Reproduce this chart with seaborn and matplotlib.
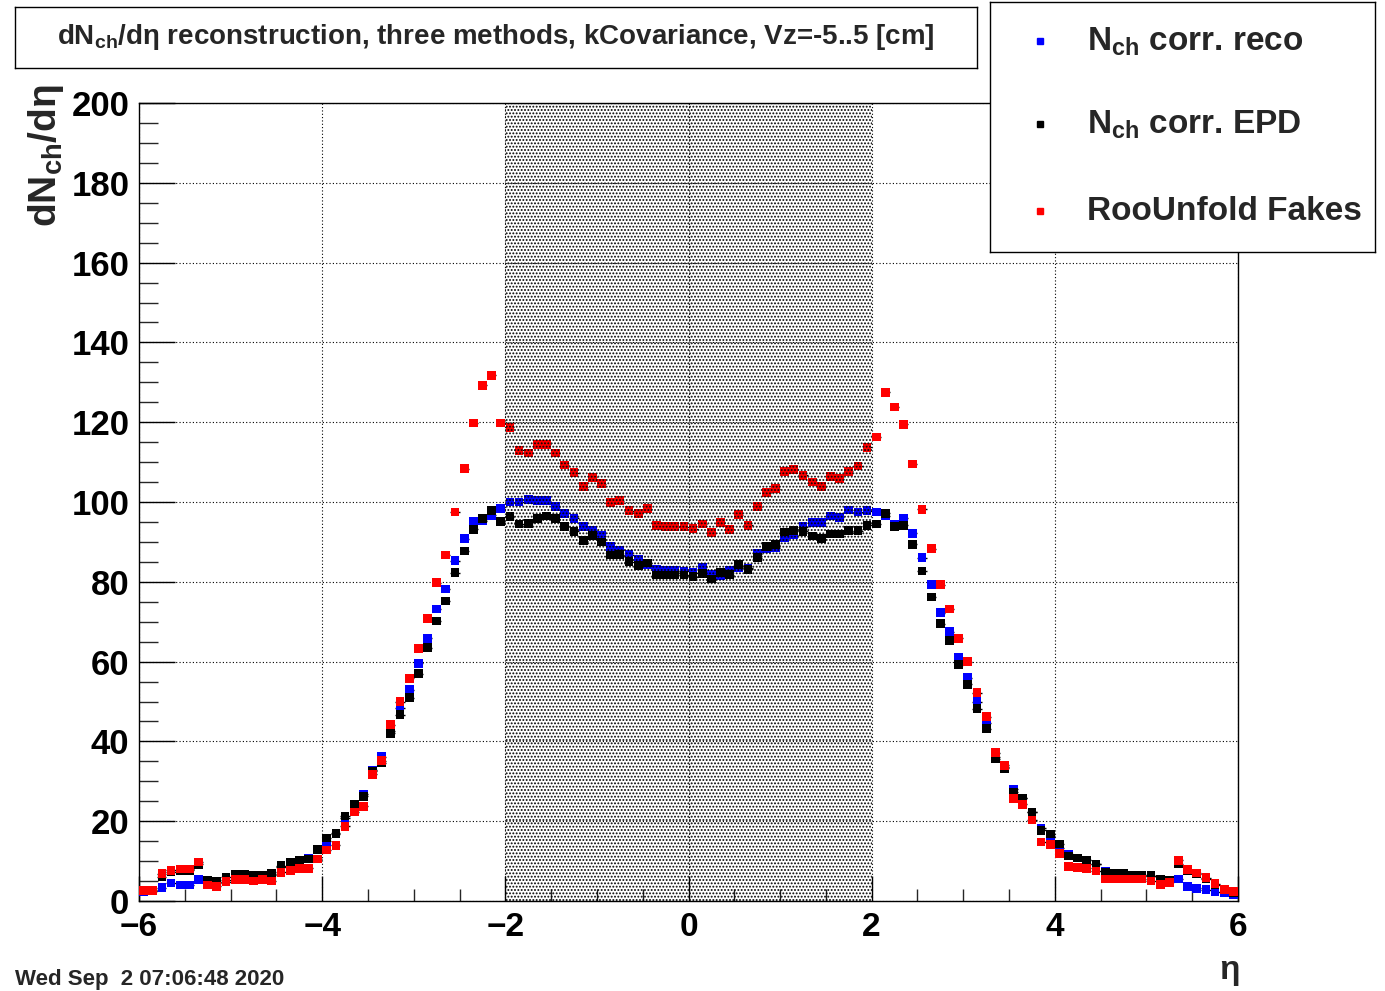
import numpy as np
import pandas as pd
import matplotlib
matplotlib.use("Agg")
import matplotlib.pyplot as plt
import seaborn as sns

# pseudorapidity bins: 120 bins of width 0.1 between -6 and 6
eta_lo, eta_hi, n_bins = -6.0, 6.0, 120
eta = np.linspace(eta_lo, eta_hi, n_bins + 1)[:-1] + 0.05

nch_reco = [
    2.3, 2.5, 3.3, 4.5, 4.0, 4.0, 5.3, 4.8, 4.5, 5.3,
    6.2, 6.2, 6.2, 6.3, 6.5, 8.5, 9.5, 10.0, 10.8, 12.8,
    15.0, 16.8, 20.8, 24.0, 26.7, 32.8, 36.2, 42.5, 48.3, 53.0,
    59.6, 65.8, 73.2, 78.2, 85.3, 90.8, 95.2, 95.3, 96.7, 98.3,
    100.0, 100.0, 100.7, 100.3, 100.3, 98.8, 97.2, 95.9, 93.8, 93.0,
    91.6, 88.8, 87.9, 86.8, 85.5, 84.3, 83.2, 82.8, 82.8, 82.7,
    82.3, 83.6, 81.8, 81.5, 82.8, 83.5, 83.4, 87.0, 88.3, 88.5,
    91.2, 91.8, 93.8, 94.8, 94.8, 96.5, 96.2, 98.0, 97.5, 97.8,
    97.5, 96.5, 94.5, 96.0, 92.2, 86.0, 79.3, 72.3, 67.5, 61.0,
    56.0, 50.0, 44.7, 36.0, 33.6, 28.0, 25.8, 22.3, 18.3, 16.3,
    13.3, 11.7, 10.8, 10.2, 9.2, 7.5, 7.0, 6.8, 6.5, 6.5,
    6.3, 5.3, 5.2, 5.5, 3.7, 3.2, 2.8, 2.3, 2.0, 1.7,
]

nch_epd = [
    2.5, 2.6, 6.0, 7.3, 7.5, 7.7, 9.2, 5.2, 4.8, 6.0,
    6.7, 6.7, 6.5, 6.5, 6.8, 8.8, 9.7, 10.3, 10.5, 13.0,
    15.8, 17.0, 21.3, 24.2, 26.2, 32.5, 34.7, 42.0, 46.7, 51.0,
    57.0, 63.5, 70.2, 75.2, 82.3, 87.7, 93.2, 95.8, 97.8, 95.2,
    96.3, 94.5, 94.7, 95.8, 96.5, 95.8, 93.8, 92.7, 90.3, 91.6,
    90.0, 86.7, 86.8, 85.0, 84.1, 84.7, 81.7, 81.7, 81.7, 81.7,
    81.3, 82.1, 80.7, 82.4, 81.8, 84.3, 83.1, 86.0, 88.8, 89.3,
    92.5, 92.8, 92.7, 91.5, 90.8, 92.0, 92.0, 92.8, 92.8, 94.2,
    94.5, 97.2, 93.8, 94.2, 89.4, 82.7, 76.2, 69.5, 65.2, 59.2,
    54.3, 48.2, 43.2, 35.7, 33.3, 27.3, 25.8, 22.3, 17.7, 16.8,
    14.3, 11.3, 10.8, 10.2, 9.2, 7.2, 7.0, 6.8, 6.5, 6.5,
    6.3, 5.3, 5.2, 9.3, 7.6, 6.8, 5.6, 4.1, 2.8, 2.2,
]

roounfold_fakes = [
    2.7, 2.7, 6.8, 7.7, 8.0, 8.0, 9.8, 4.0, 3.7, 4.8,
    5.3, 5.3, 5.0, 5.4, 5.0, 7.2, 7.7, 8.2, 8.2, 10.5,
    12.8, 14.0, 18.7, 22.3, 23.7, 31.8, 35.2, 44.2, 50.0, 55.8,
    63.2, 70.8, 79.8, 86.7, 97.5, 108.3, 119.8, 129.2, 131.8, 119.8,
    118.7, 113.0, 112.3, 114.5, 114.5, 112.3, 109.3, 107.3, 103.8, 106.2,
    104.6, 99.8, 100.3, 97.8, 97.2, 98.3, 94.1, 93.8, 93.8, 93.8,
    93.3, 94.5, 92.3, 94.9, 93.2, 96.8, 94.2, 98.8, 102.3, 103.3,
    107.7, 108.2, 106.7, 105.0, 103.8, 106.3, 105.8, 107.7, 109.0, 113.7,
    116.3, 127.5, 123.8, 119.5, 109.5, 98.2, 88.3, 79.3, 73.2, 65.8,
    60.0, 52.2, 46.2, 37.2, 34.0, 25.7, 24.2, 20.3, 14.8, 14.2,
    12.0, 8.7, 8.3, 8.2, 7.5, 5.5, 5.5, 5.5, 5.5, 5.5,
    5.0, 4.2, 4.7, 10.2, 7.8, 7.0, 5.8, 4.3, 2.8, 2.3,
]

series_names = ["reco", "EPD", "Fakes"]
series_labels = [r"N$_{ch}$ corr. reco", r"N$_{ch}$ corr. EPD", "RooUnfold Fakes"]
series_colors = ["#0000ff", "#000000", "#ff0000"]
series_values = [nch_reco, nch_epd, roounfold_fakes]

x_ticks = [-6, -4, -2, 0, 2, 4, 6]
y_ticks = [0, 20, 40, 60, 80, 100, 120, 140, 160, 180, 200]
band = (-2.0, 2.0)

df = pd.concat(
    [pd.DataFrame({"eta": eta, "dndeta": v, "method": n})
     for n, v in zip(series_names, series_values)],
    ignore_index=True,
)

sns.set_theme(style="white")
plt.rcParams["font.family"] = ["Liberation Sans", "DejaVu Sans"]
plt.rcParams["font.weight"] = "bold"
plt.rcParams["mathtext.fontset"] = "custom"
plt.rcParams["mathtext.rm"] = "Liberation Sans:bold"
plt.rcParams["mathtext.it"] = "Liberation Sans:bold"
plt.rcParams["mathtext.bf"] = "Liberation Sans:bold"
plt.rcParams["mathtext.default"] = "rm"
plt.rcParams["hatch.linewidth"] = 0.9

W, H = 1385, 991
fig = plt.figure(figsize=(W / 100, H / 100), dpi=100)
fig.patch.set_facecolor("white")

def fx(px):
    return px / W

def fy(py):
    return 1 - py / H

ax = fig.add_axes([fx(139), fy(901), fx(1238) - fx(139), fy(103) - fy(901)])
ax.set_facecolor("white")

# bin-width error bars
for vals in series_values:
    ax.hlines(vals, eta - 0.05, eta + 0.05, colors="black", linewidth=1.0, zorder=2)

sns.scatterplot(
    data=df, x="eta", y="dndeta", hue="method", hue_order=series_names,
    palette=series_colors, marker="s", s=40, linewidth=0, edgecolor="none",
    legend=False, ax=ax, zorder=3,
)

# dotted fill of the central region, drawn over the markers
ax.axvspan(band[0], band[1], facecolor="none", edgecolor="black",
           hatch=".....", linewidth=0, zorder=4)

ax.set_xlim(eta_lo, eta_hi)
ax.set_ylim(0, 200)
ax.set_xticks(x_ticks)
ax.set_yticks(y_ticks)
ax.set_xticks(np.arange(-6, 6.01, 0.5), minor=True)
ax.set_yticks(np.arange(0, 200.01, 5), minor=True)
ax.set_xlabel("")
ax.set_ylabel("")

ax.grid(True, which="major", color="black", linestyle=(0, (1, 2)), linewidth=0.8)
ax.set_axisbelow(True)
for s in ax.spines.values():
    s.set_color("black")
    s.set_linewidth(1.0)

ax.tick_params(axis="x", which="major", direction="in", length=18, width=1,
               bottom=True, top=False, labelsize=24, pad=8, colors="black")
ax.tick_params(axis="x", which="minor", direction="in", length=8.6, width=1,
               bottom=True, top=False)
ax.tick_params(axis="y", which="major", direction="in", length=26, width=1,
               left=True, right=False, labelsize=25, pad=7, colors="black")
ax.tick_params(axis="y", which="minor", direction="in", length=13.6, width=1,
               left=True, right=False)
for lab in ax.get_xticklabels() + ax.get_yticklabels():
    lab.set_fontweight("bold")

# axis titles
fig.text(fx(46), fy(84), r"dN$_{ch}$/dη", rotation=90, ha="center", va="top",
         fontsize=28, fontweight="bold")
fig.text(fx(1240), fy(970), "η", ha="right", va="center", fontsize=24)

# title box
tax = fig.add_axes([fx(15), fy(68), fx(977) - fx(15), fy(7) - fy(68)])
tax.set_xticks([]); tax.set_yticks([])
tax.set_facecolor("white")
for s in tax.spines.values():
    s.set_color("black"); s.set_linewidth(1.0)
tax.text(0.5, 0.5,
         r"dN$_{ch}$/dη reconstruction, three methods, kCovariance, Vz=-5..5 [cm]",
         ha="center", va="center", fontsize=20, fontweight="bold",
         transform=tax.transAxes)

# legend box
lax = fig.add_axes([fx(990), fy(252), fx(1375) - fx(990), fy(2) - fy(252)])
lax.set_xlim(990, 1375)
lax.set_ylim(252, 2)
lax.set_xticks([]); lax.set_yticks([])
lax.set_facecolor("white")
for s in lax.spines.values():
    s.set_color("black"); s.set_linewidth(1.0)
rows = [41, 124, 211]
for yrow, lab, col in zip(rows, series_labels, series_colors):
    lax.plot([1040], [yrow], marker="s", markersize=5, color=col, linestyle="none")
    lax.text(1087, yrow + 1, lab, ha="left", va="center", fontsize=24,
             fontweight="bold")

fig.text(fx(15), fy(980), "Wed Sep  2 07:06:48 2020", ha="left", va="center",
         fontsize=16, fontweight="bold")

fig.savefig("out.png", dpi=100, facecolor="white")
